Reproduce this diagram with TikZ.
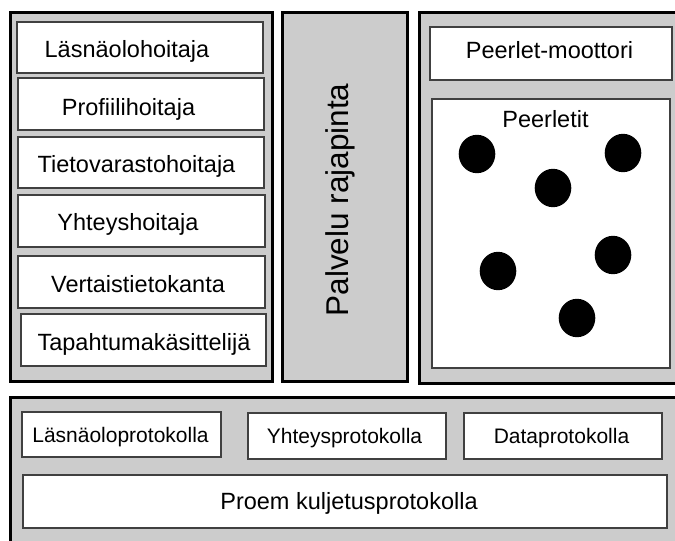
\documentclass[tikz,border=0pt]{standalone}
\usepackage{fontspec}
\setmainfont{Liberation Sans}
\usetikzlibrary{shapes.geometric}
\definecolor{panelgray}{RGB}{204,204,204}
\definecolor{boxline}{RGB}{64,64,64}
\tikzset{
  panel/.style={draw=black, line width=3pt, fill=panelgray, inner sep=0pt, outer sep=0pt, anchor=north west},
  box/.style={draw=boxline, line width=1.2pt, fill=white, inner sep=0pt, outer sep=0pt, anchor=north west},
  lbl/.style={anchor=base, inner sep=0pt, font=\fontsize{23.5}{28}\selectfont},
  plbl/.style={anchor=base, inner sep=0pt, font=\fontsize{21}{25}\selectfont},
  biglbl/.style={anchor=base, inner sep=0pt, rotate=90, font=\fontsize{31.5}{36}\selectfont},
  peer/.style={ellipse, fill=black, draw=none, minimum width=36.6pt, minimum height=38.4pt, inner sep=0pt}
}
\begin{document}
\begin{tikzpicture}[x=1pt, y=-1pt]
  \clip (0,0) rectangle (675,541);
  \fill[white] (0,0) rectangle (675,541);

  % three upper panels
  \node[panel, minimum width=262pt, minimum height=369pt] (managers) at (10,12) {};
  \node[panel, minimum width=125pt, minimum height=369pt] (api) at (282,12) {};
  \node[panel, minimum width=272pt, minimum height=371pt] (engine) at (419,12) {};

  % lower protocol panel
  \node[panel, minimum width=680pt, minimum height=160pt] (protocols) at (10,397) {};

  % managers
  \node[box, minimum width=246pt, minimum height=51pt] (presbox) at (17,22) {};
  \node[box, minimum width=246pt, minimum height=52pt] (profbox) at (18,78) {};
  \node[box, minimum width=246pt, minimum height=51pt] (storebox) at (18,137) {};
  \node[box, minimum width=247pt, minimum height=52pt] (connbox) at (18,195) {};
  \node[box, minimum width=247pt, minimum height=52pt] (peerdbbox) at (18,256) {};
  \node[box, minimum width=245pt, minimum height=52pt] (eventbox) at (21,314) {};

  \node[lbl] (pres) at (127,57) {Läsnäolohoitaja};
  \node[lbl] (prof) at (128.5,115) {Profiilihoitaja};
  \node[lbl] (store) at (136.5,172) {Tietovarastohoitaja};
  \node[lbl] (conn) at (128,230) {Yhteyshoitaja};
  \node[lbl] (peerdb) at (138,292) {Vertaistietokanta};
  \node[lbl] (event) at (144,350) {Tapahtumakäsittelijä};

  % service interface
  \node[biglbl] (apilbl) at (348,200) {Palvelu rajapinta};

  % peerlet engine and peerlets
  \node[box, minimum width=242pt, minimum height=53pt] (motorbox) at (430,27) {};
  \node[box, minimum width=238pt, minimum height=269pt] (peerletbox) at (432,99) {};
  \node[lbl] (motor) at (549.5,58) {Peerlet-moottori};
  \node[lbl] (peerlets) at (545.5,127) {Peerletit};

  \node[peer] (p1) at (477,154) {};
  \node[peer] (p2) at (623,153) {};
  \node[peer] (p3) at (553,188) {};
  \node[peer] (p4) at (498,271) {};
  \node[peer] (p5) at (613,255) {};
  \node[peer] (p6) at (577,318) {};

  % protocols
  \node[box, minimum width=199pt, minimum height=45pt] (presprotbox) at (22,412) {};
  \node[box, minimum width=198pt, minimum height=46pt] (connprotbox) at (248,413) {};
  \node[box, minimum width=198pt, minimum height=46pt] (dataprotbox) at (464,413) {};
  \node[box, minimum width=644pt, minimum height=53pt] (transbox) at (23,475) {};

  \node[plbl] (presprot) at (120.5,442) {Läsnäoloprotokolla};
  \node[plbl] (connprot) at (344.5,443) {Yhteysprotokolla};
  \node[plbl] (dataprot) at (561.5,443) {Dataprotokolla};
  \node[lbl] (trans) at (349,509) {Proem kuljetusprotokolla};
\end{tikzpicture}
\end{document}
